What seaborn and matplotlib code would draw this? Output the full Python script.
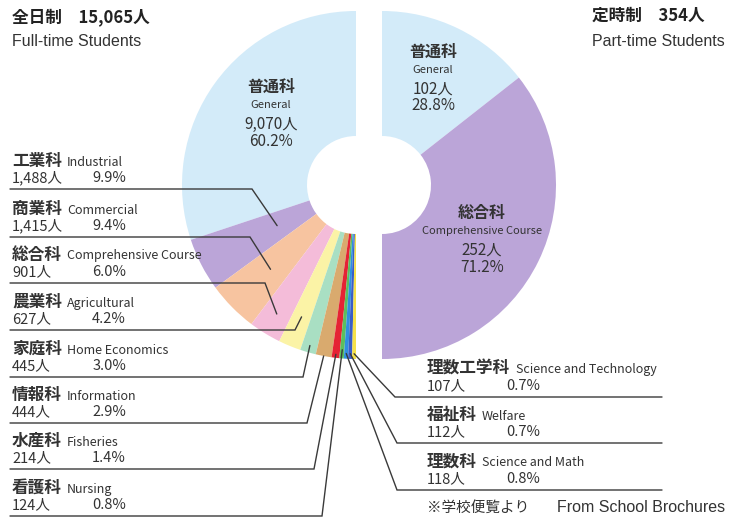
import numpy as np
import matplotlib.pyplot as plt
import seaborn as sns

sns.set_style('white')
plt.rcParams['font.family'] = ['Noto Sans CJK JP', 'DejaVu Sans']

# Full-time students, slices in order counter-clockwise from the top
ft_jp = ['普通科', '工業科', '商業科', '総合科', '農業科', '家庭科', '情報科',
         '水産科', '看護科', '理数科', '福祉科', '理数工学科']
ft_en = ['General', 'Industrial', 'Commercial', 'Comprehensive Course',
         'Agricultural', 'Home Economics', 'Information', 'Fisheries',
         'Nursing', 'Science and Math', 'Welfare', 'Science and Technology']
ft_students = [9070, 1488, 1415, 901, 627, 445, 444, 214, 124, 118, 112, 107]
ft_colors = ['#d3ebf9', '#bba5d8', '#f7c4a0', '#f4bcd9', '#fbf3a6', '#a9dfc3',
             '#d9aa6e', '#e52334', '#5bbf5e', '#2f8fe0', '#3a5dc8', '#f5e14a']

# Part-time students, slices clockwise from the top
pt_jp = ['普通科', '総合科']
pt_en = ['General', 'Comprehensive Course']
pt_students = [102, 252]
pt_colors = ['#d3ebf9', '#bba5d8']

ft_total = sum(ft_students)
pt_total = sum(pt_students)

W, H = 742, 520
TXT = '#333333'
LINE = '#3a3a3a'
LATIN = ['Liberation Sans', 'DejaVu Sans']

fig = plt.figure(figsize=(W / 100, H / 100), dpi=100)
ax = fig.add_axes([0, 0, 1, 1])

R, r0 = 174, 49
cL = (356, H - 185)
cR = (382, H - 185)

ft_frac = np.array(ft_students) / ft_total * 0.5
pt_frac = np.array(pt_students) / pt_total * 0.5

ax.pie(ft_frac, colors=ft_colors, startangle=90, counterclock=True,
       radius=R, center=cL, normalize=False,
       wedgeprops=dict(width=R - r0, linewidth=0))
ax.pie(pt_frac, colors=pt_colors, startangle=90, counterclock=False,
       radius=R, center=cR, normalize=False,
       wedgeprops=dict(width=R - r0, linewidth=0))


def ft_point(i, rf):
    cum = np.cumsum(ft_frac)
    mid = cum[i] - ft_frac[i] / 2
    th = np.deg2rad(90 + 360 * mid)
    return cL[0] + rf * R * np.cos(th), cL[1] + rf * R * np.sin(th)


def pct(v, tot):
    return f'{v / tot * 100:.1f}%'


def block(x, line_y, jp, en, n, p, pct_x):
    y = H - line_y
    ax.text(x, y + 28, jp, fontsize=12, fontweight='bold', color=TXT,
            va='center', ha='left')
    ax.text(x + 16.7 * len(jp) + 5, y + 27, en, fontsize=9, color=TXT,
            va='center', ha='left')
    ax.text(x, y + 11, f'{n:,}人', fontsize=10.5, color=TXT, va='center', ha='left')
    ax.text(pct_x, y + 11, p, fontsize=10.5, color=TXT, va='center', ha='right')


# left labels: Industrial .. Nursing
left_idx = [1, 2, 3, 4, 5, 6, 7, 8]
left_line_y = [189, 237, 283, 330, 377, 423, 469, 516]
left_elbow_x = [252, 250, 265, 295, 303, 307, 314, 322]
left_anchor_r = [0.51, 0.69, 0.87, 0.82, 0.96, 1.0, 0.98, 0.95]
for i, ly, ex, ar in zip(left_idx, left_line_y, left_elbow_x, left_anchor_r):
    px, py = ft_point(i, ar)
    ax.plot([10, ex, px], [H - ly, H - ly, py], color=LINE, lw=1,
            solid_joinstyle='miter')
    block(12, ly, ft_jp[i], ft_en[i], ft_students[i],
          pct(ft_students[i], ft_total), 126)

# right labels for the smallest full-time courses
right_idx = [11, 10, 9]
right_line_y = [397, 443, 490]
right_elbow_x = [395, 397, 397]
for i, ly, ex in zip(right_idx, right_line_y, right_elbow_x):
    px, py = ft_point(i, 0.97)
    ax.plot([662, ex, px], [H - ly, H - ly, py], color=LINE, lw=1,
            solid_joinstyle='miter')
    block(427, ly, ft_jp[i], ft_en[i], ft_students[i],
          pct(ft_students[i], ft_total), 540)

# labels inside the donut
def inner(x, y, jp, en, n, p):
    ax.text(x, H - y, jp, fontsize=11.5, fontweight='bold', color=TXT,
            ha='center', va='center')
    ax.text(x, H - y - 18, en, fontsize=8, color=TXT, ha='center',
            va='center')
    ax.text(x, H - y - 37, f'{n:,}人', fontsize=11, color=TXT,
            ha='center', va='center')
    ax.text(x, H - y - 54, p, fontsize=11, color=TXT, ha='center',
            va='center')


inner(271, 87, ft_jp[0], ft_en[0], ft_students[0], pct(ft_students[0], ft_total))
inner(433, 52, pt_jp[0], pt_en[0], pt_students[0], pct(pt_students[0], pt_total))
inner(482, 213, pt_jp[1], pt_en[1], pt_students[1], pct(pt_students[1], pt_total))

# titles
ax.text(12, H - 17, f'全日制　{ft_total:,}人', fontsize=12, fontweight='bold',
        color='#222222', ha='left', va='center')
ax.text(12, H - 42, 'Full-time Students', fontsize=11.5, color=TXT,
        ha='left', va='center', family=LATIN)
ax.text(592, H - 16, f'定時制　{pt_total:,}人', fontsize=12, fontweight='bold',
        color='#222222', ha='left', va='center')
ax.text(592, H - 42, 'Part-time Students', fontsize=11.5, color=TXT,
        ha='left', va='center', family=LATIN)

# source
ax.text(427, H - 508, '※学校便覧より', fontsize=10.5, color=TXT,
        ha='left', va='center')
ax.text(557, H - 508, 'From School Brochures', fontsize=11.5, color=TXT,
        ha='left', va='center', family=LATIN)

ax.set_xlim(0, W)
ax.set_ylim(0, H)
ax.set_aspect('equal')
ax.axis('off')

fig.savefig('out.png', dpi=100)
